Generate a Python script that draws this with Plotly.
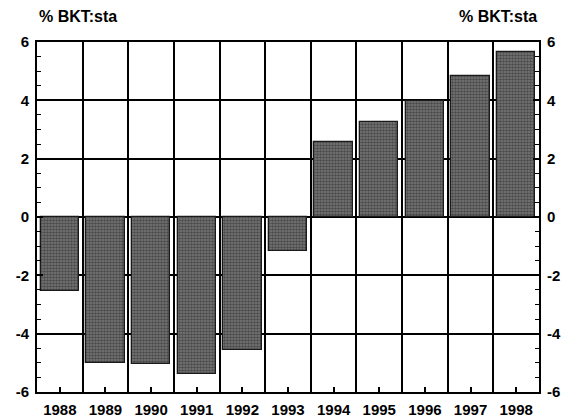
import plotly.graph_objects as go

years = [1988, 1989, 1990, 1991, 1992, 1993, 1994, 1995, 1996, 1997, 1998]
values = [-2.55, -5.0, -5.03, -5.38, -4.55, -1.15, 2.56, 3.25, 3.97, 4.83, 5.66]
y_ticks = [-6, -4, -2, 0, 2, 4, 6]
y_labels = ["-6", "-4", "-2", "0", "2", "4", "6"]
unit_label = "% BKT:sta"

font = dict(family="Liberation Sans, Arial, sans-serif", size=15, color="black", weight="bold")

fig = go.Figure()
fig.add_trace(go.Bar(
    x=years, y=values, width=0.84,
    marker=dict(
        color="#666666",
        line=dict(color="#1a1a1a", width=1.3),
        pattern=dict(shape=".", fgcolor="#1e1e1e", bgcolor="#787878", size=3, solidity=0.55, fillmode="overlay"),
    ),
    showlegend=False,
))
# invisible trace so the right-hand axis is drawn
fig.add_trace(go.Scatter(x=[years[0]], y=[0], yaxis="y2", mode="markers",
                         marker=dict(opacity=0), showlegend=False, hoverinfo="skip"))

yaxis_common = dict(
    range=[-6, 6], tickvals=y_ticks, ticktext=y_labels,
    ticks="inside", ticklen=6, tickwidth=1.5, tickcolor="black",
    showline=True, linecolor="black", linewidth=2,
    minor=dict(dtick=0.5, ticks="inside", ticklen=4, tickcolor="black", tickwidth=1.2, showgrid=False),
    tickfont=dict(size=15), ticklabelstandoff=3, automargin=False,
)

fig.update_layout(
    width=564, height=420,
    margin=dict(l=37, r=25, t=42, b=28),
    paper_bgcolor="white", plot_bgcolor="white",
    font=font,
    bargap=0,
    xaxis=dict(
        range=[1987.5, 1998.5], tickvals=years, ticktext=[str(y) for y in years],
        showgrid=False, zeroline=False, automargin=False,
        ticks="inside", ticklen=5, tickwidth=1.5, tickcolor="black",
        showline=True, linecolor="black", linewidth=2, mirror=True,
        tickfont=dict(size=15), ticklabelstandoff=3,
        minor=dict(tick0=1987.5, dtick=1, showgrid=True, gridcolor="black", gridwidth=1.5, ticks=""),
    ),
    yaxis=dict(
        showgrid=True, gridcolor="black", gridwidth=1.5,
        zeroline=True, zerolinecolor="black", zerolinewidth=2,
        **yaxis_common,
    ),
    yaxis2=dict(
        overlaying="y", side="right", showgrid=False, zeroline=False,
        **yaxis_common,
    ),
    annotations=[
        dict(text=unit_label, xref="paper", yref="paper", x=0.0, y=1.0, xanchor="left", yanchor="bottom",
             yshift=15, showarrow=False, font=dict(size=16)),
        dict(text=unit_label, xref="paper", yref="paper", x=1.0, y=1.0, xanchor="right", yanchor="bottom",
             yshift=15, showarrow=False, font=dict(size=16)),
    ],
)

# page has a default 8px body margin; drop it so the chart fills the window
fig.write_html("out.html", config={"displayModeBar": False},
               post_script="document.body.style.margin='0';")
